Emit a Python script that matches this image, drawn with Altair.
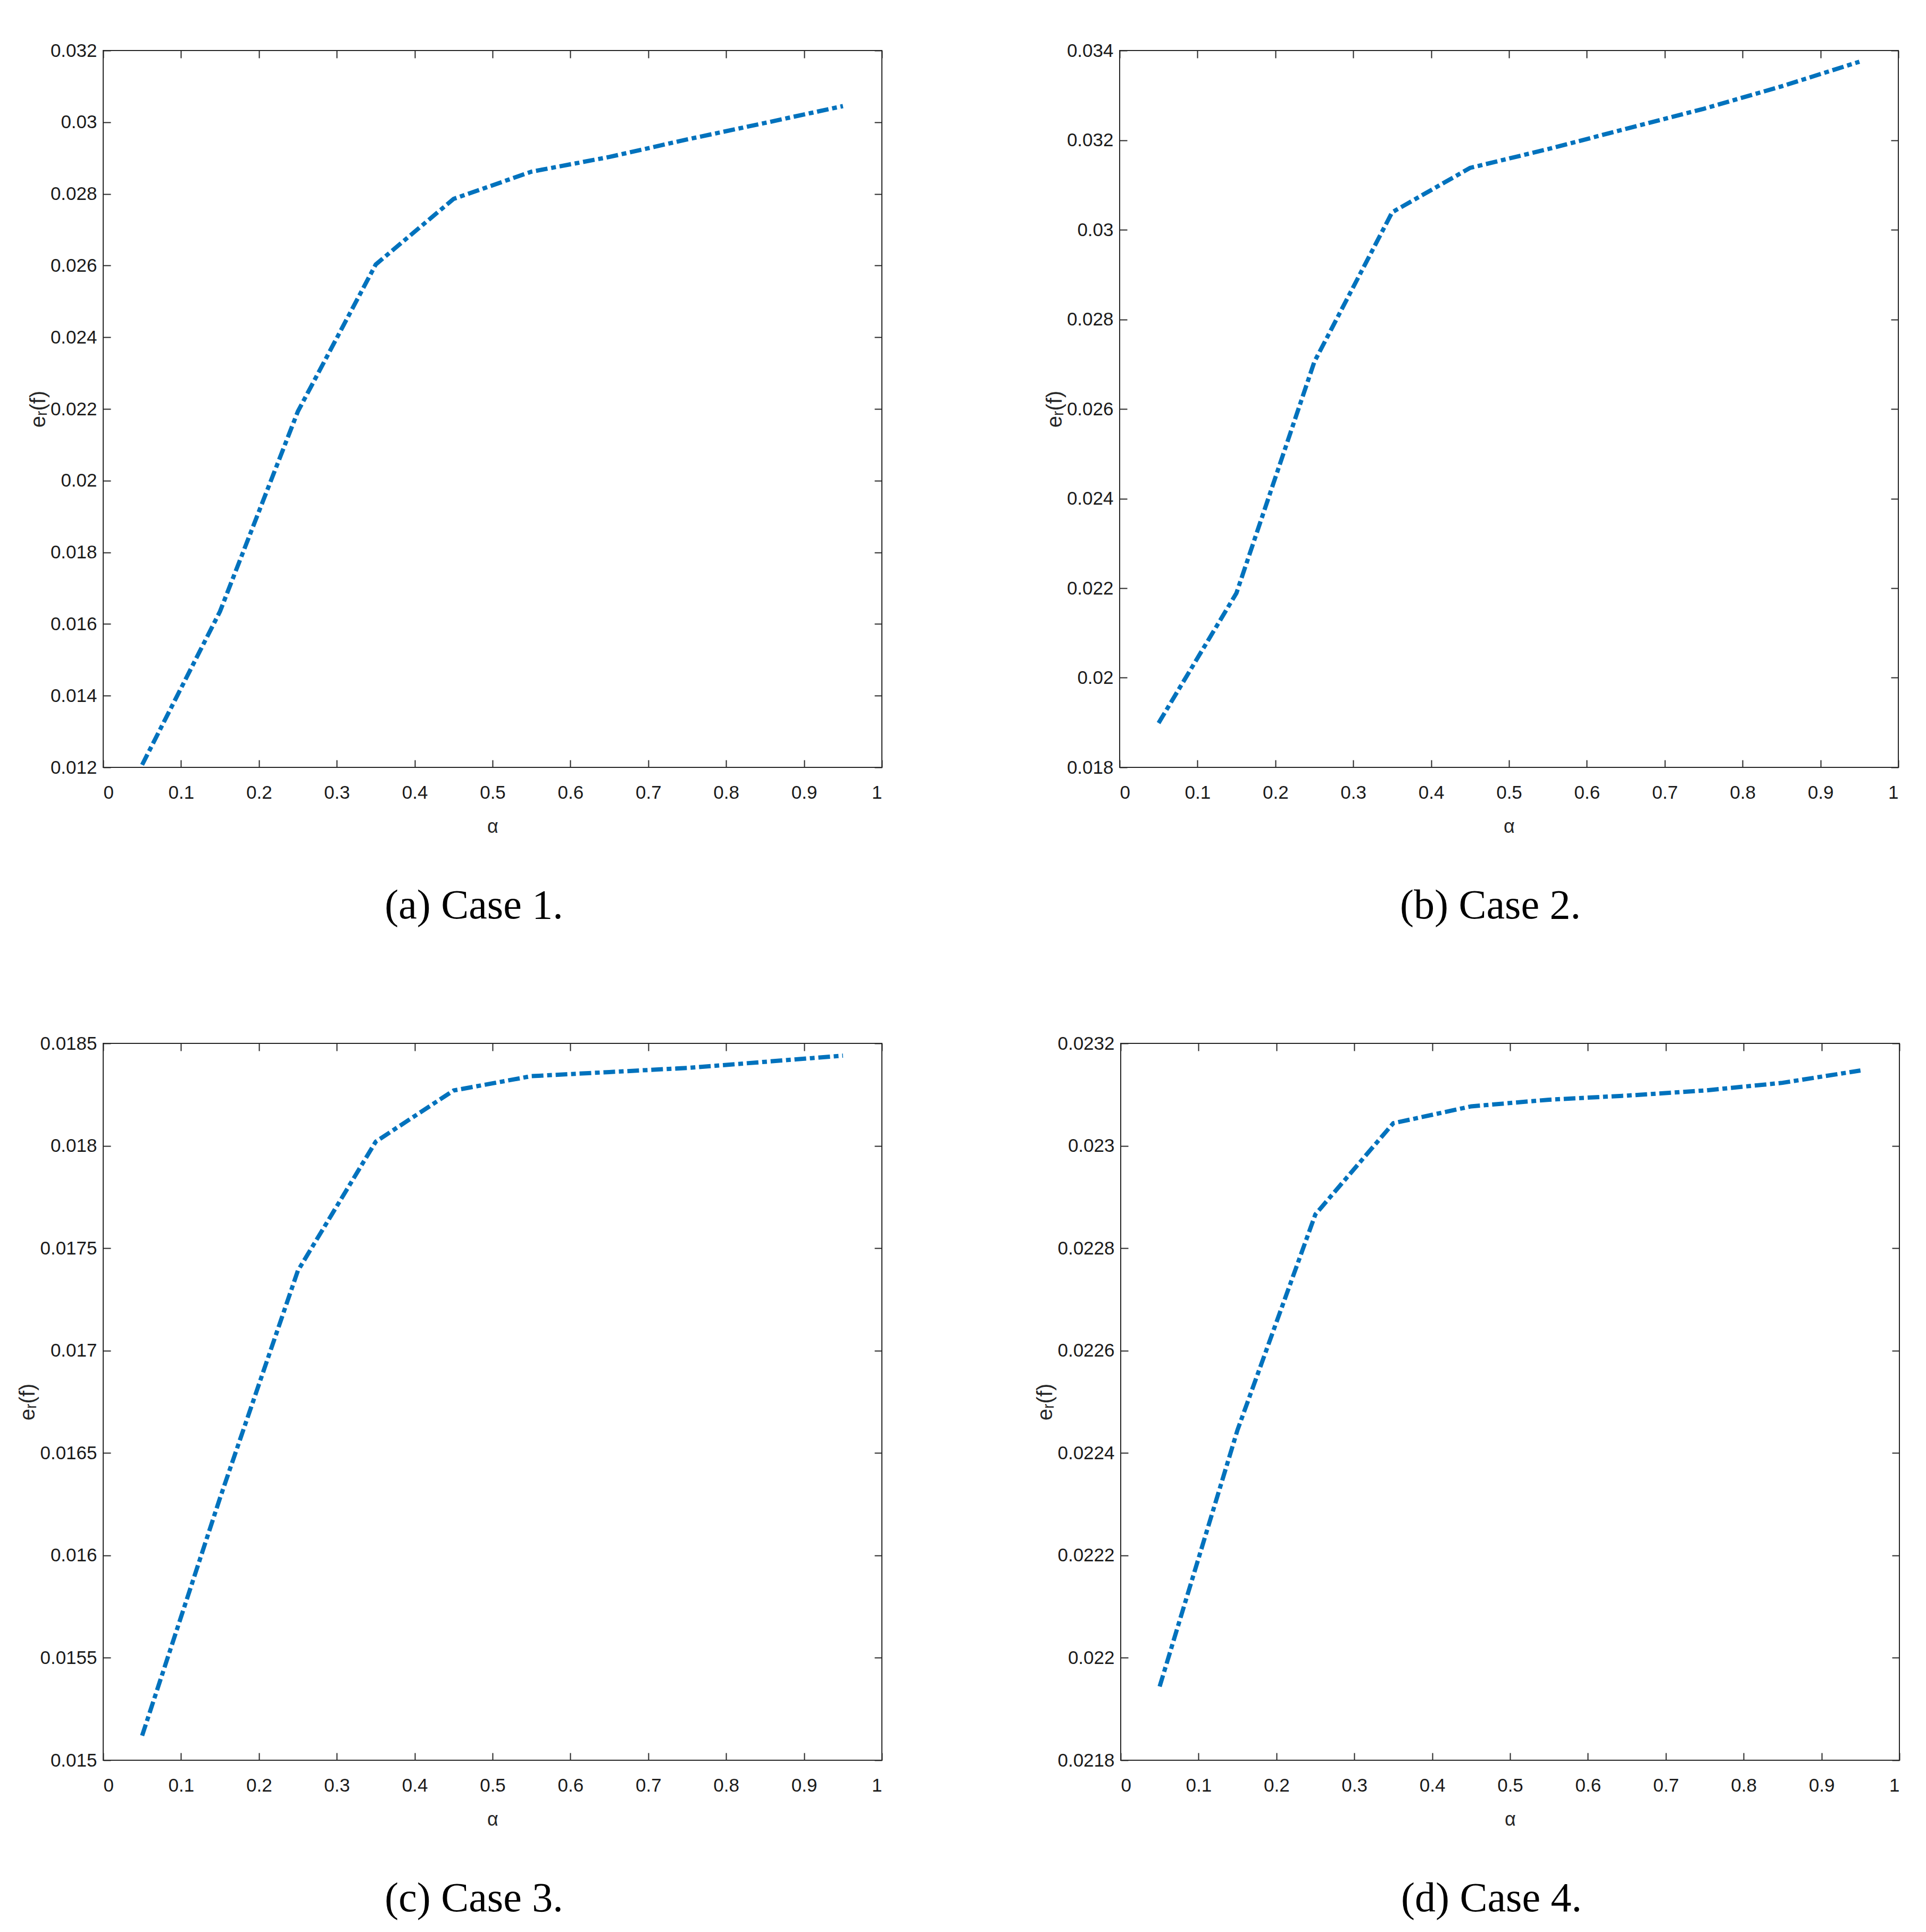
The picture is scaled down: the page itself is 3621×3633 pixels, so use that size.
import altair as alt
import pandas as pd

# ---- data ----
alpha = [0.05, 0.15, 0.25, 0.35, 0.45, 0.55, 0.65, 0.75, 0.85, 0.95]

case1 = [0.01207, 0.01635, 0.02193, 0.02603, 0.02786, 0.02862, 0.02903, 0.02952, 0.02998, 0.03045]
case2 = [0.01899, 0.02189, 0.02705, 0.03039, 0.03138, 0.03180, 0.03225, 0.03270, 0.03320, 0.03375]
case3 = [0.01512, 0.01628, 0.01739, 0.01802, 0.01827, 0.01834, 0.01836, 0.01838, 0.01841, 0.01844]
case4 = [0.021944, 0.022445, 0.022866, 0.023044, 0.023077, 0.023090, 0.023098, 0.023108, 0.023123, 0.023147]

x_ticks = [0, 0.1, 0.2, 0.3, 0.4, 0.5, 0.6, 0.7, 0.8, 0.9, 1]
y_ticks1 = [0.012, 0.014, 0.016, 0.018, 0.02, 0.022, 0.024, 0.026, 0.028, 0.03, 0.032]
y_ticks2 = [0.018, 0.02, 0.022, 0.024, 0.026, 0.028, 0.03, 0.032, 0.034]
y_ticks3 = [0.015, 0.0155, 0.016, 0.0165, 0.017, 0.0175, 0.018, 0.0185]
y_ticks4 = [0.0218, 0.022, 0.0222, 0.0224, 0.0226, 0.0228, 0.023, 0.0232]

captions = ["(a) Case 1.", "(b) Case 2.", "(c) Case 3.", "(d) Case 4."]

LINE_COLOR = "#0072BD"
AXIS_COLOR = "#262626"
TICK_FONT = "Liberation Sans, Arial, Helvetica, sans-serif"
CAP_FONT = "Liberation Serif, Times New Roman, serif"
W, H = 1464, 1348
TICK = 14


def panel(values, yticks, caption):
    df = pd.DataFrame({"alpha": alpha, "err": values})
    xs = alt.Scale(domain=[0, 1], nice=False)
    ys = alt.Scale(domain=[yticks[0], yticks[-1]], nice=False, zero=False)
    common = dict(domain=False, grid=False, tickSize=TICK, tickColor=AXIS_COLOR,
                  tickWidth=2, offset=-TICK)
    main = alt.Chart(df).mark_line(
        color=LINE_COLOR, strokeWidth=8, strokeDash=[22, 7, 9, 7]
    ).encode(
        x=alt.X("alpha:Q", scale=xs, axis=alt.Axis(
            orient="bottom", values=x_ticks, format="~f", title="α",
            labelFont=TICK_FONT, labelFontSize=35, labelColor="#1a1a1a",
            labelPadding=30, titleFont=TICK_FONT, titleFontSize=36,
            titleFontWeight="normal", titleColor=AXIS_COLOR, titlePadding=29,
            **common)),
        y=alt.Y("err:Q", scale=ys, axis=alt.Axis(
            orient="left", values=yticks, format="~f", title="eᵣ(f)",
            labelFont=TICK_FONT, labelFontSize=35, labelColor="#1a1a1a",
            labelPadding=12, titleFont=TICK_FONT, titleFontSize=40,
            titleFontWeight="normal", titleColor=AXIS_COLOR, titlePadding=2,
            **common)),
    )
    mirror = alt.Chart(df).mark_line(opacity=0).encode(
        x=alt.X("alpha:Q", scale=xs, axis=alt.Axis(
            orient="top", values=x_ticks, labels=False, title=None, **common)),
        y=alt.Y("err:Q", scale=ys, axis=alt.Axis(
            orient="right", values=yticks, labels=False, title=None, **common)),
    )
    return alt.layer(main, mirror).resolve_axis(
        x="independent", y="independent"
    ).properties(
        width=W, height=H,
        title=alt.TitleParams(caption, orient="bottom", font=CAP_FONT, fontSize=78,
                              fontWeight="normal", color="black", offset=93,
                              anchor="middle", frame="group", dx=-35),
    )


pa = panel(case1, y_ticks1, captions[0])
pb = panel(case2, y_ticks2, captions[1])
pc = panel(case3, y_ticks3, captions[2])
pd_ = panel(case4, y_ticks4, captions[3])

chart = alt.vconcat(
    alt.hconcat(pa, pb, spacing=302),
    alt.hconcat(pc, pd_, spacing=284),
    spacing=200,
).properties(
    padding={"left": 23, "top": 69, "right": 5, "bottom": 0},
    background="white",
).configure_view(stroke=AXIS_COLOR, strokeWidth=2)

chart.save("out.html", embed_options={"renderer": "svg", "actions": False})
